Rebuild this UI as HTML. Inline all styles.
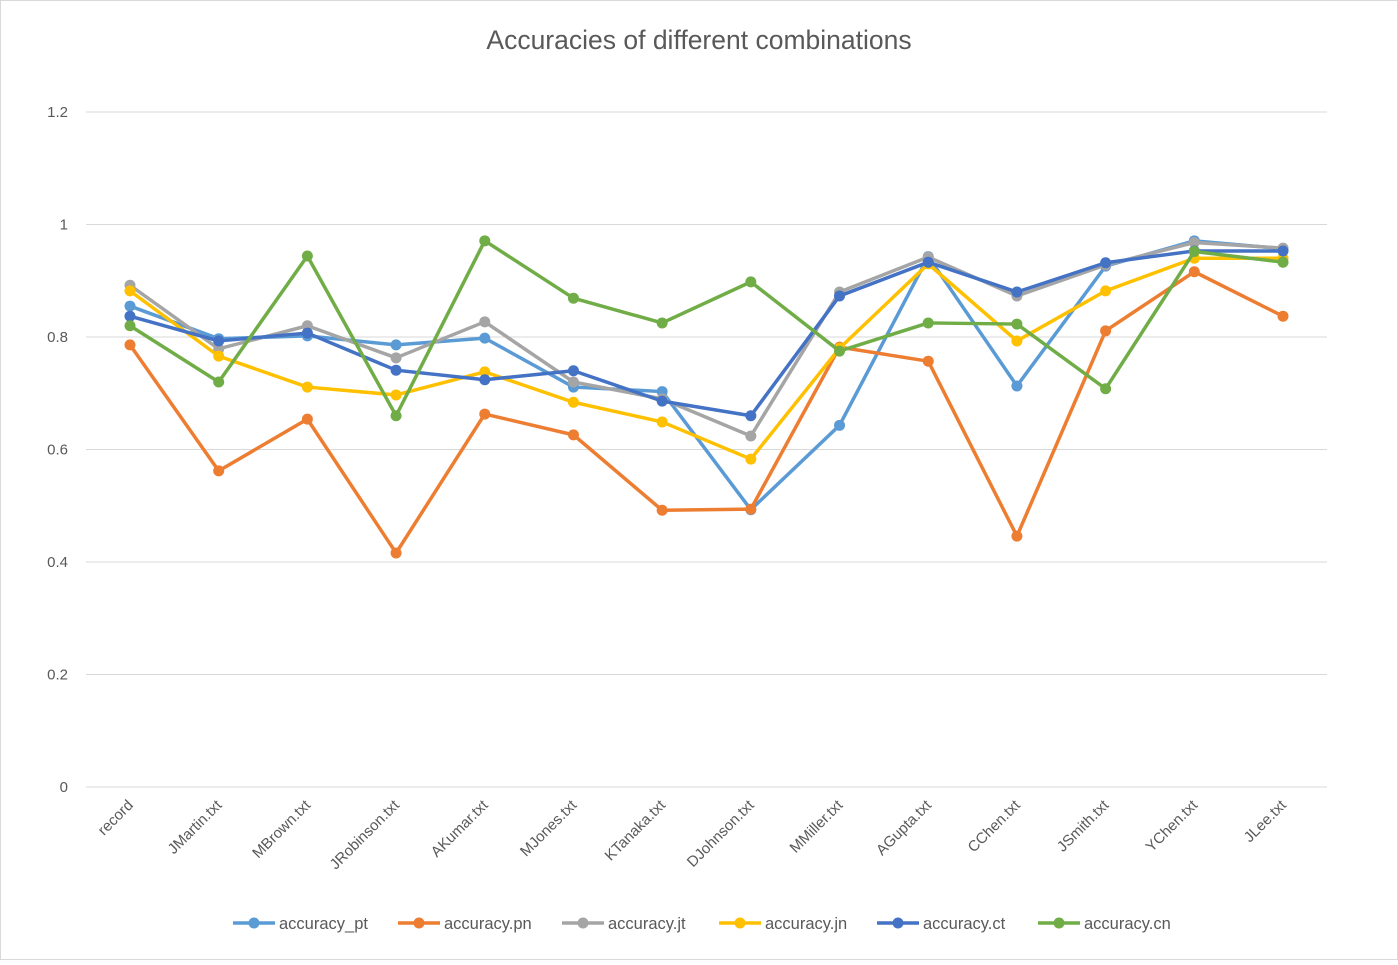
<!DOCTYPE html>
<html><head><meta charset="utf-8"><style>
body{margin:0;background:#fff;}
svg text{font-family:"Liberation Sans",sans-serif;}
</style></head><body>
<svg width="1398" height="960" viewBox="0 0 1398 960">
<rect x="0.5" y="0.5" width="1397" height="959" fill="#fff" stroke="#d9d9d9"/>
<text x="699" y="49" text-anchor="middle" font-size="26.5" fill="#595959">Accuracies of different combinations</text>
<g id="grid"></g><g id="xlabels"></g><g id="series"></g><g id="legend"></g>
</svg>
<script>
const categories=["record","JMartin.txt","MBrown.txt","JRobinson.txt","AKumar.txt","MJones.txt","KTanaka.txt","DJohnson.txt","MMiller.txt","AGupta.txt","CChen.txt","JSmith.txt","YChen.txt","JLee.txt"];
const yTicks=[0,0.2,0.4,0.6,0.8,1,1.2];
const yTickLabels=["0","0.2","0.4","0.6","0.8","1","1.2"];
const seriesNames=["accuracy_pt","accuracy.pn","accuracy.jt","accuracy.jn","accuracy.ct","accuracy.cn"];
const seriesColors=["#5B9BD5","#ED7D31","#A5A5A5","#FFC000","#4472C4","#70AD47"];
const pt=[0.855,0.797,0.802,0.786,0.798,0.711,0.703,0.493,0.643,0.943,0.713,0.926,0.971,0.957];
const pn=[0.786,0.562,0.654,0.416,0.663,0.626,0.492,0.494,0.782,0.757,0.446,0.811,0.916,0.837];
const jt=[0.892,0.779,0.82,0.763,0.827,0.72,0.69,0.624,0.88,0.942,0.873,0.928,0.968,0.958];
const jn=[0.882,0.766,0.711,0.697,0.738,0.684,0.649,0.583,0.78,0.93,0.793,0.882,0.94,0.94];
const ct=[0.837,0.793,0.807,0.741,0.724,0.74,0.686,0.66,0.873,0.933,0.88,0.932,0.953,0.953];
const cn=[0.82,0.72,0.944,0.66,0.971,0.869,0.825,0.898,0.775,0.825,0.823,0.708,0.952,0.933];
const allSeries=[pt,pn,jt,jn,ct,cn];
const NS="http://www.w3.org/2000/svg";
const X0=86,X1=1327,Y0=787,Y1=112;
const xs=i=>130+i*(1283-130)/(categories.length-1);
const ys=v=>Y0-(v/1.2)*(Y0-Y1);
function mk(t,a,p){const e=document.createElementNS(NS,t);for(const k in a)e.setAttribute(k,a[k]);p.appendChild(e);return e;}
const grid=document.getElementById('grid');
yTicks.forEach((v,i)=>{
 const l=mk('line',{x1:X0,x2:X1,y1:ys(v),y2:ys(v),stroke:'#d9d9d9','stroke-width':1},grid);
 
 
 const t=mk('text',{x:68,y:ys(v)+5,'text-anchor':'end','font-size':15,fill:'#595959'},grid);
 t.textContent=yTickLabels[i];
 
 
});
const xl=document.getElementById('xlabels');
categories.forEach((c,i)=>{
 const t=mk('text',{x:xs(i)+4,y:806,'text-anchor':'end','font-size':15,fill:'#595959',transform:`rotate(-45 ${xs(i)+4} 806)`},xl);
 t.textContent=c;
 
 
});
const sg=document.getElementById('series');
allSeries.forEach((s,k)=>{
 const g=mk('g',{},sg);
 
 
 const pl=mk('polyline',{points:s.map((v,i)=>xs(i)+','+ys(v)).join(' '),fill:'none',stroke:seriesColors[k],'stroke-width':3.5,'stroke-linejoin':'round'},g);
 
 
 s.forEach((v,i)=>{
  const c=mk('circle',{cx:xs(i),cy:ys(v),r:5.5,fill:seriesColors[k]},g);
  
  
 });
});
const lg=document.getElementById('legend');
const lx=[233,398,562,719,877,1038];
seriesNames.forEach((n,k)=>{
 const g=mk('g',{},lg);
 
 
 mk('line',{x1:lx[k],x2:lx[k]+42,y1:923,y2:923,stroke:seriesColors[k],'stroke-width':3.5},g);
 mk('circle',{cx:lx[k]+21,cy:923,r:5.5,fill:seriesColors[k]},g);
 const t=mk('text',{x:lx[k]+46,y:929,'font-size':16.5,fill:'#595959'},g);
 t.textContent=n;
});
</script>
</body></html>
